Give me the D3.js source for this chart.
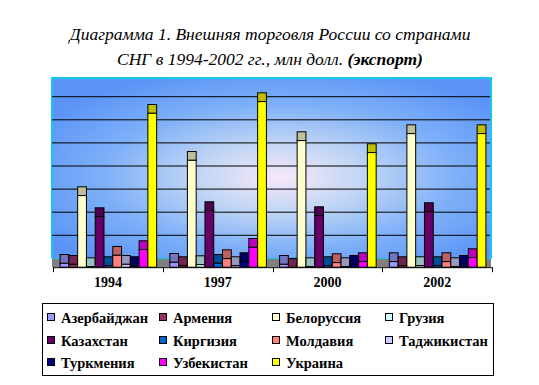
<!DOCTYPE html>
<html><head><meta charset="utf-8">
<script src="https://cdn.jsdelivr.net/npm/d3@7"></script>
<style>html,body{margin:0;padding:0;background:#fff;}svg{display:block;}</style>
</head><body>
<script>
const years = ["1994", "1997", "2000", "2002"];
const countries = ["Азербайджан","Армения","Белоруссия","Грузия","Казахстан","Киргизия","Молдавия","Таджикистан","Туркмения","Узбекистан","Украина"];
const colors = ["#9999ff","#993366","#ffffcc","#ccffff","#660066","#0066cc","#ff8080","#ccccff","#000080","#ff00ff","#ffff00"];
// export, million USD, per country: [1994, 1997, 2000, 2002]
const azerbaijan  = [190, 234, 147, 264];
const armenia     = [147, 91, 20, 91];
const belarus     = [3121, 4649, 5502, 5805];
const georgia     = [48, 134, 48, 91];
const kazakhstan  = [2212, 2472, 2255, 2429];
const kyrgyzstan  = [91, 190, 91, 91];
const moldova     = [537, 394, 221, 264];
const tajikistan  = [147, 91, 48, 48];
const turkmenistan= [91, 264, 147, 147];
const uzbekistan  = [784, 883, 264, 437];
const ukraine     = [6684, 7190, 4983, 5805];
const gridTicks = [1000, 2000, 3000, 4000, 5000, 6000, 7000];

const series = [azerbaijan, armenia, belarus, georgia, kazakhstan, kyrgyzstan, moldova, tajikistan, turkmenistan, uzbekistan, ukraine];

const SERIF = "'Liberation Serif', 'Times New Roman', 'DejaVu Serif', serif";
const W = 539, H = 385;
const svg = d3.select("body").append("svg").attr("width", W).attr("height", H);
svg.append("rect").attr("width", W).attr("height", H).attr("fill", "#fff");

const plotL = 52, plotR = 491, plotT = 78;
const backBase = 258.4, depth = 8.8, frontBase = backBase + depth;

const x = d3.scaleBand().domain(years).range([53, 492]).paddingInner(0).paddingOuter(0);
const xs = d3.scaleBand().domain(countries).range([0, x.bandwidth()]).paddingInner(0).paddingOuter(0.75);
const y = d3.scaleLinear().domain([0, 1000]).range([0, 23.1]); // height in px

const defs = svg.append("defs");
const rg = defs.append("radialGradient").attr("id", "wall").attr("cx", 0.52).attr("cy", 0.55).attr("r", 0.62).attr("fx", 0.52).attr("fy", 0.55);
[[0, "#f8e8f8"], [0.3, "#c2d6f4"], [0.65, "#7eb0f8"], [1, "#5b94f6"]].forEach(s => rg.append("stop").attr("offset", s[0]).attr("stop-color", s[1]));

// back wall
svg.append("rect").attr("x", plotL).attr("y", plotT).attr("width", plotR - plotL).attr("height", backBase - plotT).attr("fill", "url(#wall)");
// floor
svg.append("rect").attr("x", plotL).attr("y", backBase).attr("width", plotR - plotL).attr("height", depth).attr("fill", "#808080");
// wall border
svg.append("path").attr("d", `M${plotL},${backBase}V${plotT}H${plotR}V${backBase}`).attr("fill", "none").attr("stroke", "#14c8f0").attr("stroke-width", 2);
svg.append("line").attr("x1", plotL).attr("x2", plotR).attr("y1", backBase).attr("y2", backBase).attr("stroke", "#14c8f0").attr("stroke-width", 1);

// gridlines
svg.append("g").selectAll("line").data(gridTicks).join("line")
  .attr("x1", plotL).attr("x2", plotR - 1)
  .attr("y1", d => backBase - y(d)).attr("y2", d => backBase - y(d))
  .attr("stroke", "#000").attr("stroke-width", 1);

function darker(c) { const r = d3.rgb(c); return d3.rgb(r.r * 0.75, r.g * 0.75, r.b * 0.75).formatHex(); }

const bars = svg.append("g");
years.forEach((yr, yi) => {
  countries.forEach((c, ci) => {
    const v = series[ci][yi];
    const bx = x(yr) + xs(c), bw = xs.bandwidth();
    const h = y(v);
    // top face
    bars.append("rect").attr("x", bx + 0.5).attr("y", backBase - h + 0.5).attr("width", bw).attr("height", depth)
      .attr("fill", darker(colors[ci])).attr("stroke", "#000").attr("stroke-width", 1);
    // front face
    if (h > 0.5) bars.append("rect").attr("x", bx + 0.5).attr("y", frontBase - h + 0.5).attr("width", bw).attr("height", h - 0.5)
      .attr("fill", colors[ci]).attr("stroke", "#000").attr("stroke-width", 1);
  });
});

// axis
const ax = svg.append("g");
ax.append("line").attr("x1", 53).attr("x2", 492).attr("y1", frontBase + 0.5).attr("y2", frontBase + 0.5).attr("stroke", "#000");
const edges = years.map(d => x(d)).concat([x(years[years.length - 1]) + x.bandwidth()]);
ax.selectAll("line.t").data(edges).join("line").attr("class", "t")
  .attr("x1", d => Math.round(d) + 0.5).attr("x2", d => Math.round(d) + 0.5)
  .attr("y1", frontBase).attr("y2", frontBase + 5).attr("stroke", "#000");
ax.selectAll("text").data(years).join("text")
  .attr("x", d => x(d) + x.bandwidth() / 2).attr("y", 287)
  .attr("text-anchor", "middle").attr("font-family", SERIF).attr("font-weight", "bold").attr("font-size", 14)
  .text(d => d);

// title
const title = svg.append("text").attr("text-anchor", "middle").attr("font-family", SERIF).attr("font-style", "italic").attr("font-size", 17.5);
title.append("tspan").attr("x", 270).attr("y", 40).text("Диаграмма 1. Внешняя торговля России со странами");
const l2 = title.append("tspan").attr("x", 270).attr("y", 65);
l2.append("tspan").text("СНГ в 1994-2002 гг., млн долл.  ");
l2.append("tspan").attr("font-weight", "bold").text("(экспорт)");

// legend
const lg = svg.append("g");
lg.append("rect").attr("x", 42.5).attr("y", 303.5).attr("width", 451).attr("height", 72).attr("fill", "#fff").attr("stroke", "#000");
const colX = [47, 159, 272, 385], rowY = [318, 341, 363];
countries.forEach((c, i) => {
  const cx = colX[i % 4], cy = rowY[Math.floor(i / 4)];
  lg.append("rect").attr("x", cx + 0.5).attr("y", cy - 4.5).attr("width", 7).attr("height", 7).attr("fill", colors[i]).attr("stroke", "#000");
  lg.append("text").attr("x", cx + 14).attr("y", cy + 5).attr("font-family", SERIF).attr("font-weight", "bold").attr("font-size", 14.5).text(c);
});
</script>
</body></html>
